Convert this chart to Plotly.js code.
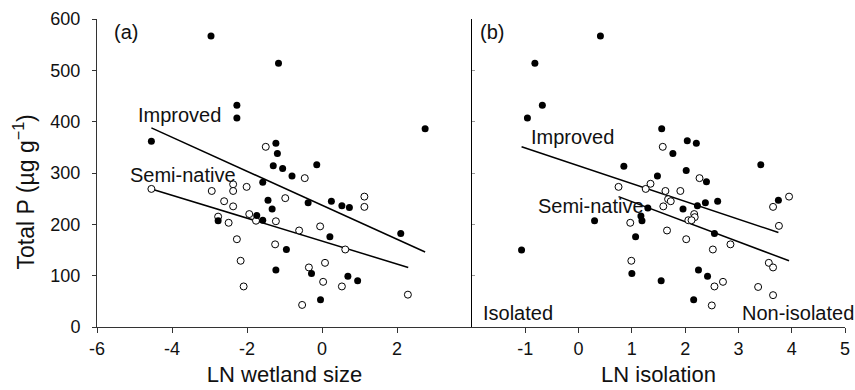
<!DOCTYPE html>
<html>
<head>
<meta charset="utf-8">
<script src="https://cdn.plot.ly/plotly-3.0.1.min.js"></script>
<style>html,body{margin:0;padding:0;background:#fff;}#chart{width:855px;height:390px;}</style>
</head>
<body>
<div id="chart"></div>
<script>
// Panel (a): LN wetland size vs Total P
var aImprovedX = [-2.96,-1.16,-2.27,-2.27,-4.55,-1.23,-1.19,-1.30,-1.05,2.75,-0.14,-0.80,-1.58,-1.44,-1.33,-0.37,0.25,0.53,0.73,0.21,2.10,-0.95,-0.28,-1.23,0.69,0.95,-0.04,-1.74,-1.58,-2.77];
var aImprovedY = [567,514,432,407,362,358,338,314,309,386,316,294,282,247,230,242,245,236,233,176,182,151,104,111,99,90,53,217,208,207];
var aSemiX = [-1.50,-0.46,-0.98,1.13,1.13,-1.23,-0.61,-0.05,-1.25,0.62,0.08,-0.35,0.03,0.53,2.29,-0.53,-4.55,-2.94,-2.37,-2.37,-2.01,-2.61,-2.37,-1.94,-1.76,-2.77,-2.49,-2.27,-2.17,-2.09];
var aSemiY = [351,290,251,254,234,206,188,196,161,151,125,116,88,79,63,43,269,265,278,265,273,245,235,220,207,215,203,171,129,79];
var aFitImprovedX = [-4.55, 2.75];
var aFitImprovedY = [388, 146];
var aFitSemiX = [-4.55, 2.30];
var aFitSemiY = [269, 116];

// Panel (b): LN isolation vs Total P
var bImprovedX = [0.41,-0.82,-0.68,-0.96,1.56,0.85,1.48,1.30,1.17,1.19,0.30,1.07,-1.07,1.00,1.55,2.04,2.21,1.77,3.42,2.02,2.40,1.96,2.23,2.38,2.61,2.55,3.75,2.25,2.42,2.16];
var bImprovedY = [567,514,432,407,386,313,294,232,216,207,207,176,150,104,90,363,358,338,316,305,283,230,236,242,245,182,247,111,99,53];
var bSemiX = [1.58,0.75,1.26,1.35,1.63,1.68,1.59,0.97,1.66,0.99,2.27,1.91,1.73,2.17,2.18,2.06,2.12,2.02,2.85,2.52,3.65,3.95,3.76,3.57,3.65,2.71,2.55,3.37,3.65,2.50];
var bSemiY = [351,273,269,279,265,249,235,203,188,129,290,265,245,220,214,208,208,171,161,151,234,254,197,125,116,88,79,78,62,42];
var bFitImprovedX = [-1.07, 3.75];
var bFitImprovedY = [351, 184];
var bFitSemiX = [0.75, 3.95];
var bFitSemiY = [254, 129];

// Tick labels
var yTicks = [0,100,200,300,400,500,600];
var aTicks = [-6,-4,-2,0,2];
var aTickText = ['-6','-4','-2','0','2'];
var bTicks = [-1,0,1,2,3,4,5];
var bTickText = ['-1','0','1','2','3','4','5'];

var FONT = 'Liberation Sans, Arial, Helvetica, sans-serif';
var filled = {size:7, color:'#000'};
var open = {size:7, color:'#fff', line:{color:'#000', width:1}};
var fitLine = {color:'#000', width:1.5};

var traces = [
  {x:aFitImprovedX, y:aFitImprovedY, mode:'lines', line:fitLine, xaxis:'x', yaxis:'y', hoverinfo:'skip'},
  {x:aFitSemiX, y:aFitSemiY, mode:'lines', line:fitLine, xaxis:'x', yaxis:'y', hoverinfo:'skip'},
  {x:aSemiX, y:aSemiY, mode:'markers', marker:open, xaxis:'x', yaxis:'y', name:'Semi-native'},
  {x:aImprovedX, y:aImprovedY, mode:'markers', marker:filled, xaxis:'x', yaxis:'y', name:'Improved'},
  {x:bFitImprovedX, y:bFitImprovedY, mode:'lines', line:fitLine, xaxis:'x2', yaxis:'y2', hoverinfo:'skip'},
  {x:bFitSemiX, y:bFitSemiY, mode:'lines', line:fitLine, xaxis:'x2', yaxis:'y2', hoverinfo:'skip'},
  {x:bSemiX, y:bSemiY, mode:'markers', marker:open, xaxis:'x2', yaxis:'y2', name:'Semi-native'},
  {x:bImprovedX, y:bImprovedY, mode:'markers', marker:filled, xaxis:'x2', yaxis:'y2', name:'Improved'}
];

var split = 375/748;
var axBase = {showline:true, linecolor:'#333', linewidth:1, showgrid:false, zeroline:false,
  ticks:'outside', ticklen:5, tickcolor:'#333', tickfont:{family:FONT, size:18, color:'#111'}};

var layout = {
  width:855, height:390,
  margin:{l:97, r:10, t:19, b:63},
  paper_bgcolor:'#fff', plot_bgcolor:'#fff',
  showlegend:false,
  font:{family:FONT, color:'#111'},
  xaxis: Object.assign({}, axBase, {domain:[0, split], range:[-6,4], tickmode:'array', tickvals:aTicks, ticktext:aTickText,
    title:{text:'LN wetland size', font:{family:FONT, size:22, color:'#111'}, standoff:9}}),
  xaxis2: Object.assign({}, axBase, {domain:[split, 1], range:[-2,5], tickmode:'array', tickvals:bTicks, ticktext:bTickText, anchor:'y2',
    title:{text:'LN isolation', font:{family:FONT, size:22, color:'#111'}, standoff:9}}),
  yaxis: Object.assign({}, axBase, {range:[0,600], tickmode:'array', tickvals:yTicks, ticklen:4, ticklabelstandoff:8}),
  yaxis2: Object.assign({}, axBase, {range:[0,600], anchor:'x2', tickmode:'array', tickvals:yTicks, ticks:'inside', ticklen:3, tickcolor:'#999', linecolor:'#000', showticklabels:false}),
  annotations:[
    {xref:'paper', yref:'paper', x:-0.0963, y:0.44, text:'Total P (µg g<sup>−1</sup>)', textangle:-90, showarrow:false, xanchor:'center', yanchor:'middle', font:{family:FONT, size:23, color:'#111'}},
    {xref:'x', yref:'y', x:-5.61, y:575, text:'(a)', showarrow:false, xanchor:'left', yanchor:'middle', font:{family:FONT, size:20, color:'#111'}},
    {xref:'x', yref:'y', x:-3.81, y:413, text:'Improved', showarrow:false, xanchor:'center', yanchor:'middle', font:{family:FONT, size:20, color:'#111'}},
    {xref:'x', yref:'y', x:-3.71, y:296, text:'Semi-native', showarrow:false, xanchor:'center', yanchor:'middle', font:{family:FONT, size:20, color:'#111'}},
    {xref:'x2', yref:'y2', x:-1.89, y:575, text:'(b)', showarrow:false, xanchor:'left', yanchor:'middle', font:{family:FONT, size:20, color:'#111'}},
    {xref:'x2', yref:'y2', x:-0.11, y:371, text:'Improved', showarrow:false, xanchor:'center', yanchor:'middle', font:{family:FONT, size:20, color:'#111'}},
    {xref:'x2', yref:'y2', x:0.23, y:236, text:'Semi-native', showarrow:false, xanchor:'center', yanchor:'middle', font:{family:FONT, size:20, color:'#111'}},
    {xref:'x2', yref:'y2', x:-1.14, y:27, text:'Isolated', showarrow:false, xanchor:'center', yanchor:'middle', font:{family:FONT, size:20, color:'#111'}},
    {xref:'x2', yref:'y2', x:4.11, y:27, text:'Non-isolated', showarrow:false, xanchor:'center', yanchor:'middle', font:{family:FONT, size:20, color:'#111'}}
  ]
};

Plotly.newPlot('chart', traces, layout, {displayModeBar:false, staticPlot:true});
</script>
</body>
</html>
